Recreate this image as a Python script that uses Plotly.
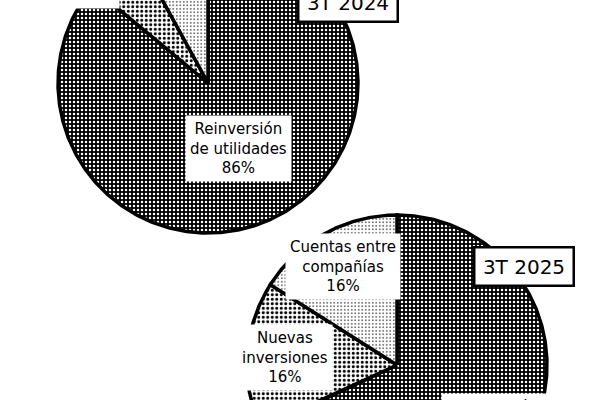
import numpy as np
import plotly.graph_objects as go

# ---------------- data ----------------
categories = ["Reinversión de utilidades", "Nuevas inversiones", "Cuentas entre compañías"]
label_lines = ["Reinversión<br>de utilidades", "Nuevas<br>inversiones", "Cuentas entre<br>compañías"]
values_2024 = [86, 6, 8]
values_2025 = [68, 16, 16]
periods = ["3T 2024", "3T 2025"]

# ---------------- style ----------------
W, H = 600, 400
FONT = "DejaVu Sans"
patterns = [
    dict(shape=".", bgcolor="black", fgcolor="white", size=4, solidity=0.3, fillmode="replace"),
    dict(shape=".", bgcolor="white", fgcolor="black", size=4.5, solidity=0.35, fillmode="replace"),
    dict(shape=".", bgcolor="white", fgcolor="black", size=3.5, solidity=0.15, fillmode="replace"),
]
pies = [
    dict(values=values_2024, period=periods[0], cx=208, cy=83, r=150,
         label_rf=[0.48, None, 1.35], label_fixed={1: (72, -24)},
         title_pos=(348, 2)),
    dict(values=values_2025, period=periods[1], cx=397, cy=365, r=150,
         label_rf=[0.77, 0.75, 0.75], label_fixed={},
         title_pos=(524, 266)),
]


def px(x):
    return x / W


def py(y):
    return 1 - y / H


fig = go.Figure()
annotations = []

for pie in pies:
    vals = np.array(pie["values"], dtype=float)
    frac = vals / vals.sum()
    ends = np.cumsum(frac) * 360.0
    starts = ends - frac * 360.0
    cx, cy, r = pie["cx"], pie["cy"], pie["r"]
    for i, (a0, a1) in enumerate(zip(starts, ends)):
        n = max(int(a1 - a0) * 2, 4)
        t = np.radians(np.linspace(a0, a1, n))
        xs = np.concatenate([[cx], cx + r * np.sin(t), [cx]])
        ys = np.concatenate([[cy], cy - r * np.cos(t), [cy]])
        fig.add_trace(go.Scatter(
            x=xs, y=ys, mode="lines", fill="toself",
            fillcolor=patterns[i]["bgcolor"],
            fillpattern=patterns[i],
            line=dict(color="black", width=3.5),
            hoverinfo="skip", showlegend=False, name=categories[i],
        ))
    # slice labels
    for i, (a0, a1) in enumerate(zip(starts, ends)):
        if i in pie["label_fixed"]:
            lx, ly = pie["label_fixed"][i]
        else:
            mid = np.radians((a0 + a1) / 2)
            rf = pie["label_rf"][i]
            lx = cx + rf * r * np.sin(mid)
            ly = cy - rf * r * np.cos(mid)
        annotations.append(dict(
            x=px(lx), y=py(ly), xref="paper", yref="paper",
            text=f"{label_lines[i]}<br>{int(pie['values'][i])}%",
            showarrow=False, xanchor="center", yanchor="middle",
            font=dict(family=FONT, size=15, color="black"),
            bgcolor="white", borderpad=4, align="center",
        ))
    tx, ty = pie["title_pos"]
    annotations.append(dict(
        x=px(tx), y=py(ty), xref="paper", yref="paper",
        text=pie["period"], showarrow=False, xanchor="center", yanchor="middle",
        font=dict(family=FONT, size=20, color="black"),
        bgcolor="white", bordercolor="black", borderwidth=2.5,
        width=97, height=36, borderpad=0,
    ))

fig.update_layout(
    width=W, height=H,
    margin=dict(l=0, r=0, t=0, b=0),
    paper_bgcolor="white", plot_bgcolor="white",
    xaxis=dict(range=[0, W], visible=False, fixedrange=True),
    yaxis=dict(range=[H, 0], visible=False, fixedrange=True),
    annotations=annotations,
    showlegend=False,
)

fig.write_html("out.html", config={"displayModeBar": False, "staticPlot": True},
               post_script="document.body.style.margin='0';")
